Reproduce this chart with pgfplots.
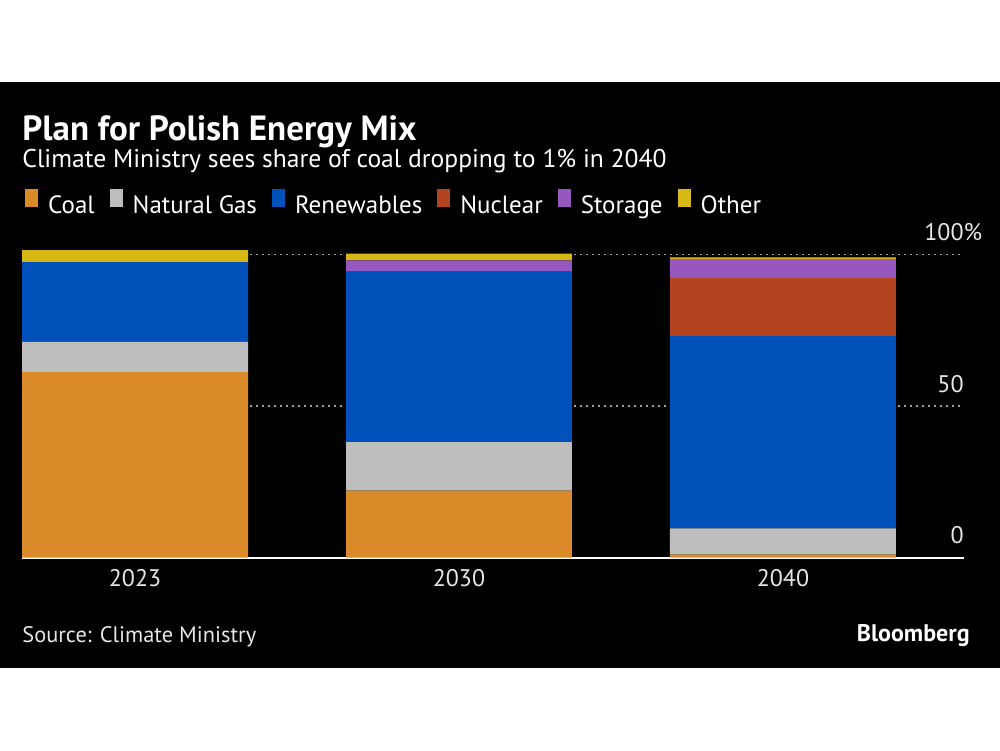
\documentclass[border=0pt]{standalone}
\usepackage{pgfplots}
\pgfplotsset{compat=1.18}
\usepackage{fontspec}
\setmainfont{PT Sans}

\definecolor{coal}{HTML}{DA8A28}
\definecolor{gas}{HTML}{BEBEBE}
\definecolor{renew}{HTML}{0051BA}
\definecolor{nuclear}{HTML}{B4441F}
\definecolor{storage}{HTML}{9657BE}
\definecolor{other}{HTML}{D8B815}
\definecolor{lightgrey}{HTML}{E6E6E6}

\begin{document}
\begin{tikzpicture}
% background: white bands, black panel (1px = 0.5pt)
\fill[white] (0,0) rectangle (500pt,375pt);
\fill[black] (0,41pt) rectangle (500pt,334pt);

\node[anchor=base west, inner sep=0, text=white,
      font=\fontsize{17.5}{20}\selectfont\bfseries] at (11pt,304.5pt) {Plan for Polish Energy Mix};
\node[anchor=base west, inner sep=0, text=white,
      font=\fontsize{12.8}{14}\selectfont] at (11pt,291pt) {Climate Ministry sees share of coal dropping to 1\% in 2040};

\begin{axis}[
    at={(11pt,96.15pt)}, anchor=south west,
    scale only axis, width=471pt, height=159.1pt,
    ybar stacked, bar width=0.6975,
    xmin=-0.349, xmax=2.559, ymin=0, ymax=105,
    xtick={0,1,2}, xticklabels={2023,2030,2040},
    ytick={0,50,100}, yticklabels={0,50,100\rlap{\%}},
    yticklabel pos=right,
    axis line style={draw=none}, major tick length=0pt,
    ymajorgrids, grid style={gray!75, dash pattern=on 1.2pt off 1.8pt, line width=0.8pt},
    tick label style={font=\fontsize{12}{14}\selectfont, text=lightgrey, inner sep=0pt},
    xticklabel style={anchor=north, yshift=-5.5pt},
    yticklabel style={anchor=base east, yshift=7pt},
    /pgf/number format/assume math mode=true,
    legend columns=-1,
    legend style={at={(0.003,1.159)}, anchor=north west, draw=none, fill=none,
        inner sep=0pt, text=white, font=\fontsize{12.5}{14}\selectfont,
        nodes={inner sep=0pt},
        /tikz/every odd column/.append style={column sep=5pt},
        /tikz/every even column/.append style={column sep=7.5pt}},
    legend image code/.code={\fill[#1] (0pt,-0.3pt) rectangle (6.5pt,8.4pt);},
    clip=false,
]
\addplot[fill=coal, draw=none] coordinates {(0,61.3) (1,22.1) (2,1.0)};
\addlegendentry{Coal}
\addplot[fill=gas, draw=none] coordinates {(0,9.9) (1,16.0) (2,8.7)};
\addlegendentry{Natural Gas}
\addplot[fill=renew, draw=none] coordinates {(0,26.3) (1,56.3) (2,63.5)};
\addlegendentry{Renewables}
\addplot[fill=nuclear, draw=none] coordinates {(0,0) (1,0) (2,19.0)};
\addlegendentry{Nuclear}
\addplot[fill=storage, draw=none] coordinates {(0,0) (1,3.7) (2,6.3)};
\addlegendentry{Storage}
\addplot[fill=other, draw=none] coordinates {(0,4.0) (1,2.2) (2,0.6)};
\addlegendentry{Other}
\draw[white, line width=0.9pt] (rel axis cs:0,0) -- (rel axis cs:1,0);
\end{axis}

\node[anchor=base west, inner sep=0, text=lightgrey,
      font=\fontsize{11.2}{13}\selectfont] at (11pt,54pt) {Source: Climate Ministry};
\node[anchor=base east, inner sep=0, text=white,
      font=\fontsize{12}{14}\selectfont\bfseries] at (485pt,54.5pt) {Bloomberg};
\end{tikzpicture}
\end{document}
